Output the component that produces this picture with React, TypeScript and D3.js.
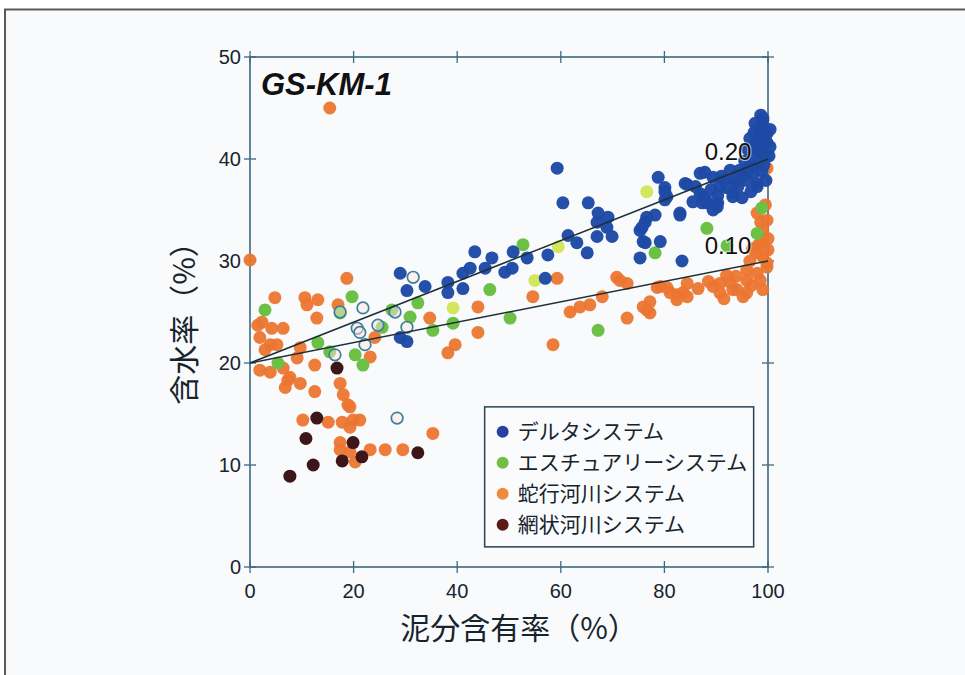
import React, { useEffect, useRef } from 'react';
import * as d3 from 'd3';

// [泥分含有率 %, 含水率 %]
const deltaPts = [
  [29.0, 28.8], [30.3, 27.1], [33.8, 27.5], [38.2, 27.9], [38.2, 26.9], [41.1, 27.3], [41.1, 28.8],
  [42.5, 29.3], [45.4, 29.3], [43.4, 30.9], [46.7, 30.3], [29.0, 22.5], [30.3, 22.1],
  [50.8, 30.9], [53.5, 30.3], [49.2, 28.9], [50.6, 29.3], [57.5, 30.6], [61.4, 32.5], [63.1, 31.8],
  [65.1, 30.8], [67.0, 32.4], [69.9, 32.4], [75.3, 33.0], [76.3, 31.8], [79.2, 31.9], [75.3, 30.3],
  [83.4, 30.0], [57.0, 28.3], [59.3, 39.1], [60.4, 35.7], [65.3, 35.7], [67.2, 34.7], [69.1, 34.3],
  [67.0, 33.8], [68.9, 33.3], [76.3, 33.8], [78.2, 34.5], [83.0, 34.5], [78.8, 38.2], [80.1, 36.8],
  [80.1, 36.0], [84.4, 37.5], [86.9, 38.6], [87.5, 36.3], [90.3, 35.7], [90.7, 37.3], [93.2, 36.3],
  [94.2, 37.3], [95.9, 37.9], [97.9, 37.6], [97.1, 39.2], [98.5, 40.6], [99.0, 41.9], [98.5, 43.1],
  [99.0, 43.8], [99.8, 42.5], [97.9, 41.9], [97.9, 40.9], [100.4, 41.2], [88.2, 35.7], [89.4, 35.0],
  [76.6, 34.3], [75.7, 33.3], [75.9, 31.9], [80.1, 37.2], [80.5, 36.3], [84.0, 37.6], [87.8, 38.7],
  [86.9, 36.6], [89.4, 38.2], [90.3, 36.4], [92.7, 38.9], [93.2, 36.7], [95.2, 38.4], [97.1, 38.6],
  [97.9, 37.3], [96.5, 40.1], [97.9, 41.4], [98.5, 42.7], [99.0, 44.0], [99.8, 41.6], [100.4, 42.9],
  [90.2, 35.3], [87.3, 35.7], [83.0, 34.7], [94.0, 37.8], [96.0, 39.0], [99.4, 40.2], [91.5, 37.9],
  [96.5, 42.0], [97.5, 43.5], [98.0, 39.5], [96.0, 41.0], [95.5, 39.8], [94.5, 38.9], [93.5, 38.0],
  [92.0, 37.2], [91.0, 38.3], [89.0, 37.0], [88.0, 36.0], [86.0, 37.3], [85.5, 35.8], [98.8, 38.8],
  [99.6, 37.9], [96.7, 36.8], [95.0, 36.2], [99.2, 39.4], [100.2, 40.3], [97.3, 42.6], [98.6, 44.3]
];

const estuaryPts = [
  [2.9, 25.2], [19.7, 26.5], [17.4, 24.9], [32.4, 25.9], [27.4, 25.2], [30.9, 24.5], [25.5, 23.5],
  [13.1, 22.0], [15.4, 21.1], [20.3, 20.8], [21.8, 19.8], [5.4, 20.0], [35.3, 23.2], [39.2, 23.9],
  [46.3, 27.2], [52.7, 31.6], [50.2, 24.4], [67.2, 23.2], [78.2, 30.8], [88.2, 33.2], [98.8, 35.2],
  [97.9, 32.7], [92.1, 31.5]
];

// paler estuary samples
const estuaryLightPts = [[76.6, 36.8], [59.5, 31.4], [55.0, 28.1], [39.2, 25.4]];

const meanderPts = [
  [0, 30.1], [15.4, 45.0], [18.7, 28.3], [4.8, 26.4], [10.6, 26.4], [13.1, 26.2], [11.0, 25.7],
  [12.9, 24.4], [2.3, 24.0], [4.2, 23.4], [6.4, 23.4], [1.9, 22.5], [3.9, 21.8], [2.9, 21.3],
  [5.2, 21.8], [9.7, 21.5], [9.1, 20.5], [1.9, 19.3], [3.9, 19.1], [6.4, 19.5], [7.7, 18.6],
  [6.8, 17.6], [9.7, 18.0], [12.5, 19.8], [12.5, 17.2], [17.4, 18.0], [18.0, 16.9], [18.9, 15.9],
  [10.2, 14.4], [15.1, 14.2], [17.8, 14.2], [19.9, 14.4], [21.2, 14.4], [19.3, 15.7], [19.3, 13.7],
  [23.2, 20.6], [24.1, 22.5], [17.0, 25.7], [34.7, 24.4], [44.0, 25.5], [44.0, 23.0], [39.6, 21.8],
  [38.2, 21.0], [17.4, 12.2], [17.4, 11.5], [19.3, 11.3], [23.2, 11.5], [26.1, 11.5], [29.5, 11.5],
  [35.3, 13.1], [20.3, 10.3], [7.3, 18.3], [1.5, 23.7],
  [54.6, 26.5], [59.3, 28.3], [58.5, 21.8], [61.8, 25.0], [63.7, 25.5], [65.6, 25.7], [68.0, 26.5],
  [70.8, 28.4], [72.8, 27.8], [72.8, 24.4], [76.6, 25.2], [77.2, 26.0], [78.6, 27.4], [80.5, 27.4],
  [82.4, 26.7], [84.4, 27.8], [84.4, 26.5], [90.7, 27.8], [93.2, 27.2], [95.2, 26.5], [95.9, 28.1],
  [97.9, 28.8], [99.0, 30.4], [99.8, 29.8], [98.5, 28.1], [99.0, 27.2], [90.7, 26.9], [89.4, 27.5],
  [97.9, 34.7], [99.8, 34.0], [99.0, 33.0], [100, 31.1], [97.9, 30.8], [99.8, 29.4], [95.9, 29.1],
  [92.7, 27.9], [94.0, 27.2], [95.9, 26.9], [71.4, 28.1], [79.2, 27.5], [81.1, 26.9], [83.6, 26.9],
  [82.4, 26.2], [75.9, 25.5], [77.2, 24.9], [99.8, 39.1], [100, 32.2], [98.8, 31.8], [96.8, 27.6],
  [91.5, 26.3], [93.8, 28.5], [96.5, 30.0], [98.2, 31.6], [99.5, 35.5], [98.6, 33.8], [97.0, 31.2],
  [92.0, 28.6], [88.5, 28.0], [86.5, 27.3]
];

const braidedPts = [
  [16.8, 19.5], [12.9, 14.6], [10.8, 12.6], [19.9, 12.2], [21.6, 10.8], [17.8, 10.4], [12.2, 10.0],
  [7.7, 8.9], [32.4, 11.2]
];

// hollow circles
const openPts = [
  [31.5, 28.4], [21.8, 25.4], [17.4, 25.0], [20.7, 23.4], [21.2, 23.0], [24.7, 23.7], [28.0, 25.0],
  [30.3, 23.5], [22.2, 21.8], [16.4, 20.8], [28.4, 14.6]
];

// water content / mud content ratio lines through (0, 20); labels placed at [x, y]
const ratioLines = [
  { label: '0.20', slope: 0.2, at: [92.3, 39.9] },
  { label: '0.10', slope: 0.1, at: [92.3, 30.7] }
];
const lineIntercept = 20;

const xTicks = [0, 20, 40, 60, 80, 100];
const yTicks = [0, 10, 20, 30, 40, 50];

const legendItems = [
  { name: 'デルタシステム', color: '#2b3f9e' },
  { name: 'エスチュアリーシステム', color: '#72c043' },
  { name: '蛇行河川システム', color: '#f08a3c' },
  { name: '網状河川システム', color: '#5a1a16' }
];

const App = () => {
  const svgRef = useRef(null);
  const width = 965;
  const height = 675;

  useEffect(() => {
    const svg = d3.select(svgRef.current);
    svg.selectAll('*').remove();

    const margin = { top: 57, right: 197, bottom: 108, left: 250 };
    const axisColor = '#3d6a80';
    const textColor = '#17242c';
    const numFont = '"Liberation Sans", Arial, sans-serif';
    const jpFont = '"Noto Sans CJK JP", sans-serif';

    // page frame
    svg.append('rect').attr('width', width).attr('height', height).attr('fill', '#ffffff');
    svg.append('rect')
      .attr('x', 5).attr('y', 9.5)
      .attr('width', width + 20).attr('height', height)
      .attr('fill', '#f9fafc')
      .attr('stroke', '#5a5a5a')
      .attr('stroke-width', 2);

    const x = d3.scaleLinear().domain([0, 100]).range([margin.left, width - margin.right]);
    const y = d3.scaleLinear().domain([0, 50]).range([height - margin.bottom, margin.top]);

    const g = svg.append('g');

    // --- FRAME + TICKS ---
    g.append('rect')
      .attr('x', x(0)).attr('y', y(50))
      .attr('width', x(100) - x(0)).attr('height', y(0) - y(50))
      .attr('fill', 'none')
      .attr('stroke', axisColor)
      .attr('stroke-width', 1.6);

    const tk = 6;
    xTicks.forEach(t => {
      [y(0), y(50)].forEach(py => {
        g.append('line')
          .attr('x1', x(t)).attr('x2', x(t))
          .attr('y1', py - tk).attr('y2', py + tk)
          .attr('stroke', axisColor).attr('stroke-width', 1.3);
      });
    });
    yTicks.forEach(t => {
      [x(0), x(100)].forEach(px => {
        g.append('line')
          .attr('x1', px - tk).attr('x2', px + tk)
          .attr('y1', y(t)).attr('y2', y(t))
          .attr('stroke', axisColor).attr('stroke-width', 1.3);
      });
    });

    g.selectAll('.xlab')
      .data(xTicks)
      .enter()
      .append('text')
      .attr('x', d => x(d))
      .attr('y', y(0) + 31)
      .attr('text-anchor', 'middle')
      .attr('font-family', numFont)
      .attr('font-size', 20)
      .attr('fill', textColor)
      .text(d => d);

    g.selectAll('.ylab')
      .data(yTicks)
      .enter()
      .append('text')
      .attr('x', x(0) - 9)
      .attr('y', d => y(d))
      .attr('dy', '0.36em')
      .attr('text-anchor', 'end')
      .attr('font-family', numFont)
      .attr('font-size', 20)
      .attr('fill', textColor)
      .text(d => d);

    // axis titles
    svg.append('text')
      .attr('x', (x(0) + x(100)) / 2 + 10)
      .attr('y', y(0) + 72)
      .attr('text-anchor', 'middle')
      .attr('font-family', jpFont)
      .attr('font-size', 30)
      .attr('fill', textColor)
      .text('泥分含有率（%）');

    svg.append('text')
      .attr('transform', `translate(${x(0) - 55},${(y(0) + y(50)) / 2 + 4}) rotate(-90)`)
      .attr('text-anchor', 'middle')
      .attr('font-family', jpFont)
      .attr('font-size', 30)
      .attr('fill', textColor)
      .text('含水率（%）');

    svg.append('text')
      .attr('x', x(0) + 11)
      .attr('y', y(50) + 38)
      .attr('font-family', numFont)
      .attr('font-size', 31)
      .attr('font-weight', 'bold')
      .attr('font-style', 'italic')
      .attr('fill', '#111111')
      .text('GS-KM-1');

    // --- POINTS ---
    const r = 6.5;
    const drawDots = (pts, fill, opacity = 1) => {
      g.append('g')
        .selectAll('circle')
        .data(pts)
        .enter()
        .append('circle')
        .attr('cx', d => x(d[0]))
        .attr('cy', d => y(d[1]))
        .attr('r', r)
        .attr('fill', fill)
        .attr('fill-opacity', opacity);
    };

    drawDots(meanderPts, '#ec7630', 0.95);
    drawDots(estuaryPts, '#6cc046');
    drawDots(estuaryLightPts, '#d3e65c');
    drawDots(deltaPts, '#1e4aa6', 0.97);
    drawDots(braidedPts, '#3c1618');

    g.append('g')
      .selectAll('circle')
      .data(openPts)
      .enter()
      .append('circle')
      .attr('cx', d => x(d[0]))
      .attr('cy', d => y(d[1]))
      .attr('r', 5.8)
      .attr('fill', '#fbe6e0')
      .attr('fill-opacity', 0.5)
      .attr('stroke', '#3f7f9a')
      .attr('stroke-width', 1.7);

    // --- RATIO LINES ---
    ratioLines.forEach(l => {
      g.append('line')
        .attr('x1', x(0)).attr('y1', y(lineIntercept))
        .attr('x2', x(100)).attr('y2', y(lineIntercept + l.slope * 100))
        .attr('stroke', '#1f2f38')
        .attr('stroke-width', 1.5);
    });
    ratioLines.forEach(l => {
      g.append('text')
        .attr('x', x(l.at[0]))
        .attr('y', y(l.at[1]))
        .attr('text-anchor', 'middle')
        .attr('font-family', numFont)
        .attr('font-size', 24)
        .attr('fill', '#111111')
        .attr('stroke', '#ffffff')
        .attr('stroke-opacity', 0.6)
        .attr('stroke-width', 2)
        .attr('paint-order', 'stroke')
        .text(l.label);
    });

    // --- LEGEND ---
    const lg = svg.append('g').attr('transform', `translate(${x(45.3)},${y(15.7)})`);
    lg.append('rect')
      .attr('width', 269).attr('height', 140)
      .attr('fill', '#fafbfd')
      .attr('stroke', '#2a4250')
      .attr('stroke-width', 1.5);

    legendItems.forEach((item, i) => {
      const row = lg.append('g').attr('transform', `translate(0,${25 + i * 31})`);
      row.append('circle')
        .attr('cx', 18).attr('cy', 0).attr('r', 6)
        .attr('fill', item.color);
      row.append('text')
        .attr('x', 33).attr('y', 0)
        .attr('dy', '0.36em')
        .attr('font-family', jpFont)
        .attr('font-size', 21)
        .attr('fill', textColor)
        .text(item.name);
    });
  }, []);

  return (
    <svg
      ref={svgRef}
      width={width}
      height={height}
      style={{ position: 'absolute', left: 0, top: 0, display: 'block' }}
    />
  );
};

export default App;
